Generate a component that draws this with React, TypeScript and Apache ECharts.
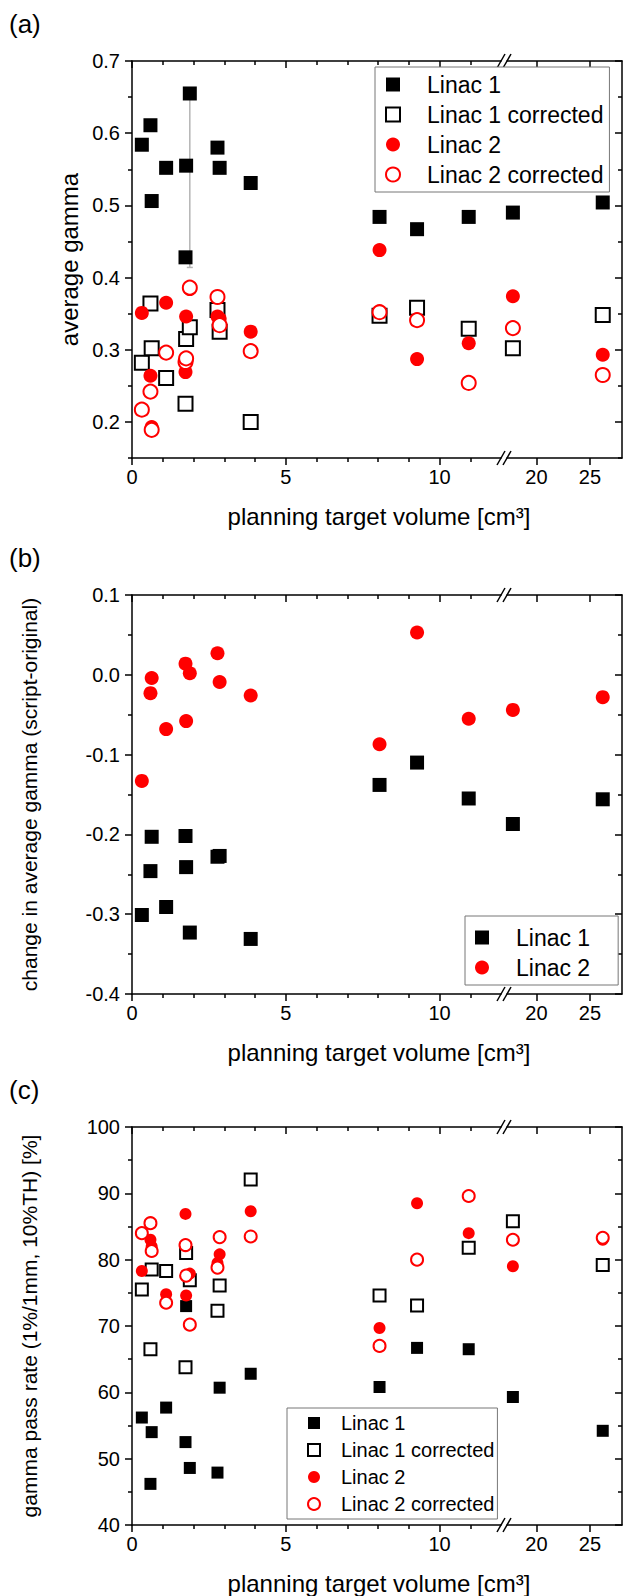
import React, { useEffect, useRef } from 'react';
import * as echarts from 'echarts';

// ---------- data ----------
// planning target volume of each of the 15 plans [cm³]
const ptv = [0.32, 0.60, 0.64, 1.11, 1.74, 1.76, 1.88, 2.78, 2.85, 3.86, 8.05, 9.27, 10.95, 17.8, 26.2];

// (a) average gamma
const avgGammaLinac1 = [0.584, 0.611, 0.506, 0.552, 0.428, 0.555, 0.655, 0.580, 0.552, 0.531, 0.484, 0.467, 0.484, 0.490, 0.504];
const avgGammaLinac1Corr = [0.282, 0.364, 0.302, 0.261, 0.225, 0.315, 0.331, 0.355, 0.325, 0.200, 0.347, 0.358, 0.329, 0.302, 0.348];
const avgGammaLinac2 = [0.351, 0.264, 0.193, 0.365, 0.269, 0.346, 0.384, 0.346, 0.343, 0.325, 0.438, 0.287, 0.309, 0.374, 0.293];
const avgGammaLinac2Corr = [0.217, 0.242, 0.189, 0.296, 0.283, 0.288, 0.386, 0.373, 0.334, 0.298, 0.352, 0.341, 0.254, 0.330, 0.265];
// grey error bar in (a): [x, low, high]
const errorBarA = [[1.88, 0.414, 0.65]];

// (b) change in average gamma (script - original)
const dGammaLinac1 = [-0.301, -0.246, -0.203, -0.291, -0.202, -0.241, -0.323, -0.228, -0.227, -0.331, -0.138, -0.110, -0.155, -0.187, -0.156];
const dGammaLinac2 = [-0.133, -0.023, -0.004, -0.068, 0.014, -0.058, 0.002, 0.027, -0.009, -0.026, -0.087, 0.053, -0.055, -0.044, -0.028];

// (c) gamma pass rate [%]
const passLinac1 = [56.2, 46.2, 54.0, 57.7, 52.5, 73.0, 48.6, 47.9, 60.7, 62.8, 60.8, 66.7, 66.5, 59.3, 54.2];
const passLinac1Corr = [75.5, 66.5, 78.5, 78.3, 63.8, 81.0, 76.9, 72.3, 76.1, 92.1, 74.6, 73.1, 81.8, 85.8, 79.2];
const passLinac2 = [78.3, 83.0, 82.0, 74.8, 86.9, 74.6, 77.9, 79.5, 80.8, 87.3, 69.7, 88.5, 84.0, 79.0, 83.0];
const passLinac2Corr = [84.0, 85.5, 81.3, 73.5, 82.2, 77.6, 70.2, 78.8, 83.4, 83.5, 67.0, 80.0, 89.6, 83.0, 83.3];

// axis ranges and ticks (broken x axis: two segments)
const xRangeLow = [0, 12];
const xRangeHigh = [17.25, 28];
const xMajorLow = [0, 5, 10];
const xMinorLow = [1, 2, 3, 4, 6, 7, 8, 9, 11];
const xMajorHigh = [20, 25];

const yRangeA = [0.15, 0.7];
const yMajorA = [0.2, 0.3, 0.4, 0.5, 0.6, 0.7];
const yMinorA = [0.15, 0.25, 0.35, 0.45, 0.55, 0.65];
const yRangeB = [-0.4, 0.1];
const yMajorB = [-0.4, -0.3, -0.2, -0.1, 0.0, 0.1];
const yMinorB = [-0.35, -0.25, -0.15, -0.05, 0.05];
const yRangeC = [40, 100];
const yMajorC = [40, 50, 60, 70, 80, 90, 100];
const yMinorC = [45, 55, 65, 75, 85, 95];

const xTitle = 'planning target volume [cm³]';
const panelLetters = ['(a)', '(b)', '(c)'];

// ---------- layout ----------
const FONT = "'Liberation Sans', Arial, Helvetica, sans-serif";
const frameLeft = 132;
const breakLeft = 501;
const breakRight = 507;
const frameRight = 622;
const panelBoxes = [
  { top: 61, height: 397 },
  { top: 595, height: 399 },
  { top: 1127, height: 398 },
];

const black = '#000000';
const red = '#ff0000';

const styleL1 = { symbol: 'rect', itemStyle: { color: black, borderWidth: 0, opacity: 1 } };
const styleL1c = { symbol: 'rect', itemStyle: { color: '#ffffff', borderColor: black, borderWidth: 2, opacity: 1 } };
const styleL2 = { symbol: 'circle', itemStyle: { color: red, borderWidth: 0, opacity: 1 } };
const styleL2c = { symbol: 'circle', itemStyle: { color: '#ffffff', borderColor: red, borderWidth: 2, opacity: 1 } };

function mkX(gridIndex: number, position: string, range: number[], values: number[], withLabel: boolean, len: number, inside: boolean, lineShow: boolean) {
  return {
    type: 'value',
    gridIndex,
    position,
    min: range[0],
    max: range[1],
    axisLine: { show: lineShow, onZero: false, lineStyle: { color: black, width: 1.5 } },
    axisTick: { show: true, customValues: values, length: len, inside, lineStyle: { color: black, width: 1.5 } },
    axisLabel: {
      show: withLabel,
      customValues: values,
      fontSize: 20,
      fontFamily: FONT,
      color: black,
      margin: 9,
    },
    splitLine: { show: false },
    minorTick: { show: false },
  };
}

function mkY(gridIndex: number, position: string, range: number[], values: number[], withLabel: boolean, len: number, inside: boolean, lineShow: boolean, fmt: (v: number) => string, name?: string, nameSize?: number, nameGap?: number) {
  return {
    type: 'value',
    gridIndex,
    position,
    min: range[0],
    max: range[1],
    name: name || '',
    nameLocation: 'middle',
    nameRotate: 90,
    nameGap: nameGap || 0,
    nameTextStyle: { fontSize: nameSize || 20, fontFamily: FONT, color: black },
    axisLine: { show: lineShow, onZero: false, lineStyle: { color: black, width: 1.5 } },
    axisTick: { show: true, customValues: values, length: len, inside, lineStyle: { color: black, width: 1.5 } },
    axisLabel: {
      show: withLabel,
      customValues: values,
      fontSize: 20,
      fontFamily: FONT,
      color: black,
      margin: 12,
      formatter: (v: number) => fmt(v),
    },
    splitLine: { show: false },
    minorTick: { show: false },
  };
}

function buildOption() {
  const grid: any[] = [];
  const xAxis: any[] = [];
  const yAxis: any[] = [];
  const series: any[] = [];

  const panels = [
    {
      box: panelBoxes[0], yRange: yRangeA, yMajor: yMajorA, yMinor: yMinorA,
      fmt: (v: number) => v.toFixed(1), yName: 'average gamma', yNameSize: 24, yNameGap: 48, symbolSize: 14,
      sets: [
        { name: 'Linac 1', values: avgGammaLinac1, ...styleL1 },
        { name: 'Linac 1 corrected', values: avgGammaLinac1Corr, ...styleL1c },
        { name: 'Linac 2', values: avgGammaLinac2, ...styleL2 },
        { name: 'Linac 2 corrected', values: avgGammaLinac2Corr, ...styleL2c },
      ],
    },
    {
      box: panelBoxes[1], yRange: yRangeB, yMajor: yMajorB, yMinor: yMinorB,
      fmt: (v: number) => v.toFixed(1), yName: 'change in average gamma (script-original)', yNameSize: 21, yNameGap: 92, symbolSize: 14,
      sets: [
        { name: 'Linac 1', values: dGammaLinac1, ...styleL1 },
        { name: 'Linac 2', values: dGammaLinac2, ...styleL2 },
      ],
    },
    {
      box: panelBoxes[2], yRange: yRangeC, yMajor: yMajorC, yMinor: yMinorC,
      fmt: (v: number) => String(Math.round(v)), yName: 'gamma pass rate (1%/1mm, 10%TH) [%]', yNameSize: 21, yNameGap: 92, symbolSize: 12,
      sets: [
        { name: 'Linac 1', values: passLinac1, ...styleL1 },
        { name: 'Linac 1 corrected', values: passLinac1Corr, ...styleL1c },
        { name: 'Linac 2', values: passLinac2, ...styleL2 },
        { name: 'Linac 2 corrected', values: passLinac2Corr, ...styleL2c },
      ],
    },
  ];

  panels.forEach((p, pi) => {
    [0, 1].forEach((seg) => {
      const gi = grid.length;
      grid.push({
        left: seg ? breakRight : frameLeft,
        top: p.box.top,
        width: seg ? frameRight - breakRight : breakLeft - frameLeft,
        height: p.box.height,
        containLabel: false,
      });
      const range = seg ? xRangeHigh : xRangeLow;
      const major = seg ? xMajorHigh : xMajorLow;
      const minor = seg ? [] : xMinorLow;
      const xi = xAxis.length;
      xAxis.push(mkX(gi, 'bottom', range, major, true, 7, false, true));
      if (minor.length) xAxis.push(mkX(gi, 'bottom', range, minor, false, 4, false, false));
      xAxis.push(mkX(gi, 'top', range, major, false, 7, true, true));
      if (minor.length) xAxis.push(mkX(gi, 'top', range, minor, false, 4, true, false));

      const yi = yAxis.length;
      if (!seg) {
        yAxis.push(mkY(gi, 'left', p.yRange, p.yMajor, true, 7, false, true, p.fmt, p.yName, p.yNameSize, p.yNameGap));
        yAxis.push(mkY(gi, 'left', p.yRange, p.yMinor, false, 4, false, false, p.fmt));
      } else {
        yAxis.push(mkY(gi, 'right', p.yRange, p.yMajor, false, 7, true, true, p.fmt));
        yAxis.push(mkY(gi, 'right', p.yRange, p.yMinor, false, 4, true, false, p.fmt));
      }

      if (pi === 0 && seg === 0) {
        series.push({
          type: 'custom',
          name: 'error',
          xAxisIndex: xi,
          yAxisIndex: yi,
          z: 1,
          silent: true,
          data: errorBarA,
          renderItem: (params: any, api: any) => {
            const x = api.value(0);
            const top = api.coord([x, api.value(2)]);
            const bot = api.coord([x, api.value(1)]);
            const st = { stroke: '#b4b4b4', lineWidth: 1.5 };
            return {
              type: 'group',
              children: [
                { type: 'line', shape: { x1: top[0], y1: top[1], x2: bot[0], y2: bot[1] }, style: st },
                { type: 'line', shape: { x1: top[0] - 3, y1: top[1], x2: top[0] + 3, y2: top[1] }, style: st },
                { type: 'line', shape: { x1: bot[0] - 3, y1: bot[1], x2: bot[0] + 3, y2: bot[1] }, style: st },
              ],
            };
          },
        });
      }

      p.sets.forEach((s) => {
        const data = ptv
          .map((x, i) => [x, s.values[i]])
          .filter((d) => (seg ? d[0] >= range[0] : d[0] <= range[1]));
        series.push({
          type: 'scatter',
          name: s.name,
          xAxisIndex: xi,
          yAxisIndex: yi,
          z: 2,
          symbol: s.symbol,
          symbolSize: p.symbolSize,
          itemStyle: s.itemStyle,
          emphasis: { disabled: true },
          data,
        });
      });
    });
  });

  const legendBase = {
    orient: 'vertical',
    selectedMode: false,
    borderColor: '#777777',
    borderWidth: 1,
    borderRadius: 0,
    backgroundColor: '#ffffff',
  };
  const legend = [
    {
      ...legendBase,
      left: 375, top: 67,
      padding: [6, 6, 6, 10],
      itemWidth: 14, itemHeight: 14, itemGap: 7,
      textStyle: { fontSize: 23, fontFamily: FONT, color: black, padding: [0, 0, 0, 22] },
      data: ['Linac 1', 'Linac 1 corrected', 'Linac 2', 'Linac 2 corrected'],
    },
    {
      ...legendBase,
      left: 465, top: 916,
      padding: [10, 28, 6, 10],
      itemWidth: 14, itemHeight: 14, itemGap: 7,
      textStyle: { fontSize: 23, fontFamily: FONT, color: black, padding: [0, 0, 0, 22] },
      data: ['Linac 1', 'Linac 2'],
    },
    {
      ...legendBase,
      left: 287, top: 1408,
      padding: [5, 3, 5, 20],
      itemWidth: 12, itemHeight: 12, itemGap: 7,
      textStyle: { fontSize: 20, fontFamily: FONT, color: black, padding: [0, 0, 0, 16] },
      data: ['Linac 1', 'Linac 1 corrected', 'Linac 2', 'Linac 2 corrected'],
    },
  ];

  const graphic: any[] = [];
  const letterY = [24, 558, 1090];
  panelBoxes.forEach((b, i) => {
    graphic.push({
      type: 'text', x: 9, y: letterY[i],
      style: { text: panelLetters[i], font: `26px ${FONT}`, fill: black, textAlign: 'left', textVerticalAlign: 'middle' },
    });
    graphic.push({
      type: 'text', x: (frameLeft + frameRight) / 2 + 2, y: b.top + b.height + 58,
      style: { text: xTitle, font: `24px ${FONT}`, fill: black, textAlign: 'center', textVerticalAlign: 'middle' },
    });
    const cx = (breakLeft + breakRight) / 2;
    [b.top, b.top + b.height].forEach((yy) => {
      [-3, 3].forEach((dx) => {
        graphic.push({
          type: 'line',
          shape: { x1: cx + dx - 4, y1: yy + 7, x2: cx + dx + 4, y2: yy - 7 },
          style: { stroke: black, lineWidth: 1.5 },
        });
      });
    });
  });

  return {
    animation: false,
    backgroundColor: '#ffffff',
    textStyle: { fontFamily: FONT },
    grid,
    xAxis,
    yAxis,
    series,
    legend,
    graphic,
  };
}

export default function App() {
  const ref = useRef<HTMLDivElement>(null);
  useEffect(() => {
    if (!ref.current) return;
    const chart = echarts.init(ref.current, null, { renderer: 'svg' });
    chart.setOption(buildOption() as any);
    return () => chart.dispose();
  }, []);
  return (
    <div
      ref={ref}
      style={{ position: 'absolute', left: 0, top: 0, width: 627, height: 1596, background: '#fff' }}
    />
  );
}
